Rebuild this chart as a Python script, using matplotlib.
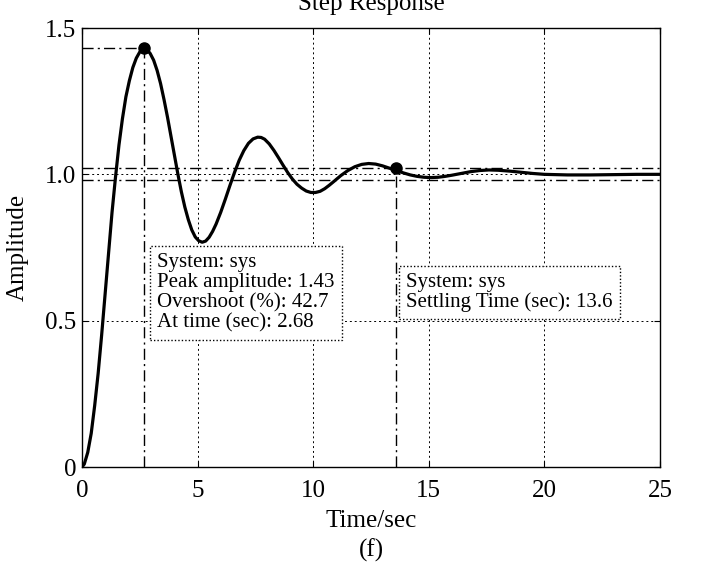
import matplotlib.pyplot as plt

# step response
t = [0, 0.1, 0.25, 0.4, 0.55, 0.7, 0.85, 1.0, 1.15, 1.3, 1.45, 1.6, 1.75,
     1.9, 2.05, 2.2, 2.35, 2.5, 2.6, 2.68, 2.8, 2.95, 3.1, 3.25, 3.4, 3.55,
     3.7, 3.85, 4.0, 4.15, 4.3, 4.45, 4.6, 4.75, 4.9, 5.05, 5.2, 5.35, 5.5,
     5.65, 5.8, 6.0, 6.2, 6.4, 6.6, 6.8, 7.0, 7.2, 7.4, 7.6, 7.75, 7.9, 8.1,
     8.3, 8.5, 8.7, 8.9, 9.1, 9.3, 9.5, 9.7, 9.9, 10.1, 10.3, 10.5, 10.7,
     10.9, 11.2, 11.5, 11.8, 12.1, 12.4, 12.7, 13.0, 13.3, 13.6, 13.9, 14.2,
     14.5, 14.8, 15.1, 15.4, 15.7, 16.0, 16.4, 16.8, 17.2, 17.6, 18.0, 18.5,
     19.0, 19.5, 20.0, 21.0, 22.0, 23.0, 24.0, 25.0]
amp = [0, 0.01, 0.05, 0.115, 0.21, 0.32, 0.45, 0.59, 0.73, 0.87, 0.99, 1.10,
       1.19, 1.265, 1.32, 1.365, 1.397, 1.418, 1.427, 1.43, 1.427, 1.413,
       1.39, 1.355, 1.31, 1.255, 1.195, 1.13, 1.065, 1.0, 0.94, 0.888, 0.845,
       0.81, 0.786, 0.773, 0.768, 0.772, 0.785, 0.805, 0.83, 0.87, 0.915,
       0.962, 1.007, 1.048, 1.081, 1.106, 1.121, 1.127, 1.126, 1.12, 1.104,
       1.082, 1.057, 1.031, 1.006, 0.984, 0.966, 0.953, 0.943, 0.938, 0.938,
       0.942, 0.951, 0.963, 0.976, 0.996, 1.013, 1.026, 1.034, 1.037, 1.035,
       1.029, 1.021, 1.013, 1.005, 0.998, 0.993, 0.99, 0.989, 0.99, 0.993,
       0.997, 1.003, 1.009, 1.013, 1.015, 1.014, 1.011, 1.007, 1.003, 1.0,
       0.998, 0.998, 0.999, 1.0, 1.0]

peak_t, peak_a = 2.68, 1.43
settle_t, settle_a = 13.6, 1.02
band = [0.98, 1.02]

xticks = [0, 5, 10, 15, 20, 25]
yticks = [0, 0.5, 1.0, 1.5]
ylabels = ['0', '0.5', '1.0', '1.5']

plt.rcParams['font.family'] = ['Liberation Serif', 'DejaVu Serif']

fig = plt.figure(figsize=(7.03, 5.75), dpi=100)
ax = fig.add_axes([0.1166, 0.1878, 0.8222, 0.7635])

dashdot = (0, (8, 3, 1.5, 3))

# grid
for x in xticks[1:-1]:
    ax.axvline(x, color='k', lw=0.7, ls=(0, (2, 3)), zorder=1)
for y in yticks[1:-1]:
    ax.axhline(y, color='k', lw=0.7, ls=(0, (2, 3)), zorder=1)

# settling band
for b in band:
    ax.axhline(b, color='k', lw=1.0, ls=dashdot, zorder=2)

# peak and settling guides
ax.plot([0, peak_t], [peak_a, peak_a], color='k', lw=1.0, ls=dashdot, zorder=2)
ax.plot([peak_t, peak_t], [0, peak_a], color='k', lw=1.0, ls=dashdot, zorder=2)
ax.plot([settle_t, settle_t], [0, settle_a], color='k', lw=1.0, ls=dashdot, zorder=2)

ax.plot(t, amp, color='k', lw=2.3, solid_joinstyle='round', zorder=4)
ax.plot([peak_t, settle_t], [peak_a, settle_a], 'o', color='k', ms=8, zorder=5)

box = dict(boxstyle='square,pad=0.35', fc='white', ec='k', lw=1.0, ls=(0, (1, 1.5)))
ax.text(3.24, 0.731,
        'System: sys\nPeak amplitude: 1.43\nOvershoot (%): 42.7\nAt time (sec): 2.68',
        fontsize=15, va='top', ha='left', linespacing=1.08, bbox=box, zorder=6)
ax.text(14.01, 0.663, 'System: sys\nSettling Time (sec): 13.6',
        fontsize=15, va='top', ha='left', linespacing=1.0, bbox=box, zorder=6)

ax.set_xlim(0, 25)
ax.set_ylim(0, 1.5)
ax.set_xticks(xticks)
ax.set_yticks(yticks)
ax.set_yticklabels(ylabels)
ax.tick_params(direction='in', labelsize=18, length=4, top=True, right=True, pad=4)
ax.tick_params(axis='x', pad=9)
for s in ax.spines.values():
    s.set_linewidth(1.0)

ax.set_xlabel('Time/sec', fontsize=18, labelpad=6)
ax.set_ylabel('Amplitude', fontsize=18, labelpad=12)
fig.text(0.528, 0.983, 'Step Response', fontsize=18, ha='center', va='baseline')
fig.text(0.528, 0.032, '(f)', fontsize=18, ha='center')

fig.savefig('out.png', dpi=100)
